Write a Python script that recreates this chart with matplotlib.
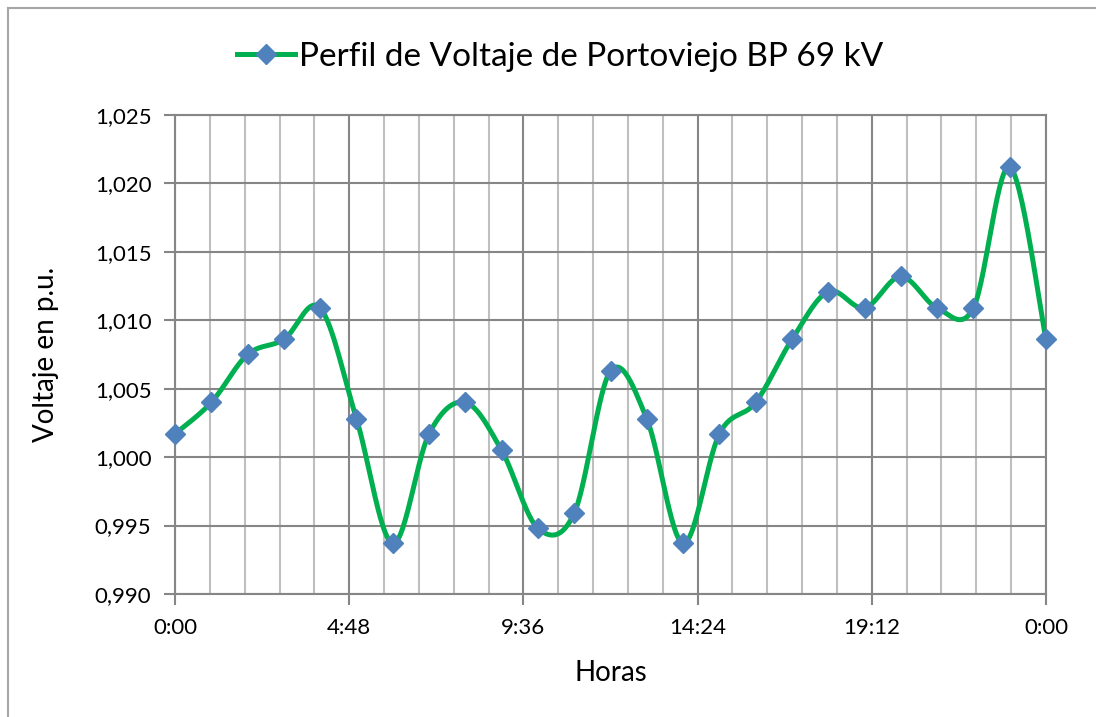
import matplotlib.pyplot as plt
import numpy as np
from matplotlib.lines import Line2D

plt.rcParams['font.family'] = ['Lato', 'DejaVu Sans']

# Data (hourly samples, hours 0..24)
horas = [0, 1, 2, 3, 4, 5, 6, 7, 8, 9, 10, 11, 12,
         13, 14, 15, 16, 17, 18, 19, 20, 21, 22, 23, 24]
voltaje = [1.0017, 1.0040, 1.0075, 1.0086, 1.0109, 1.0028, 0.9937, 1.0017,
           1.0040, 1.0005, 0.9948, 0.9959, 1.0063, 1.0028, 0.9937, 1.0017,
           1.0040, 1.0086, 1.0121, 1.0109, 1.0132, 1.0109, 1.0109, 1.0212,
           1.0086]

x_ticks = [0, 4.8, 9.6, 14.4, 19.2, 24]
x_labels = ['0:00', '4:48', '9:36', '14:24', '19:12', '0:00']
y_ticks = [0.990, 0.995, 1.000, 1.005, 1.010, 1.015, 1.020, 1.025]
y_labels = ['0,990', '0,995', '1,000', '1,005', '1,010', '1,015', '1,020', '1,025']

label = 'Perfil de Voltaje de Portoviejo BP 69 kV'
green = '#00B050'
blue = '#4F81BD'


# Excel-style smoothed line (Catmull-Rom Bezier between the points)
def smooth(x, y, n=30):
    x = np.asarray(x, float)
    y = np.asarray(y, float)
    px = np.concatenate([[x[0]], x, [x[-1]]])
    py = np.concatenate([[y[0]], y, [y[-1]]])
    xs, ys = [], []
    t = np.linspace(0, 1, n)
    for i in range(1, len(px) - 2):
        p0 = np.array([px[i], py[i]])
        p3 = np.array([px[i + 1], py[i + 1]])
        c1 = p0 + (np.array([px[i + 1], py[i + 1]]) - np.array([px[i - 1], py[i - 1]])) / 6
        c2 = p3 - (np.array([px[i + 2], py[i + 2]]) - np.array([px[i], py[i]])) / 6
        b = ((1 - t) ** 3)[:, None] * p0 + (3 * (1 - t) ** 2 * t)[:, None] * c1 \
            + (3 * (1 - t) * t ** 2)[:, None] * c2 + (t ** 3)[:, None] * p3
        xs.extend(b[:, 0])
        ys.extend(b[:, 1])
    return np.array(xs), np.array(ys)


fig = plt.figure(figsize=(10.96, 7.17), dpi=100)
ax = fig.add_axes([175 / 1096, 1 - 594 / 717, (1046 - 175) / 1096, (594 - 115) / 717])

sx, sy = smooth(horas, voltaje)
ax.plot(sx, sy, color=green, lw=3.6, solid_capstyle='round', zorder=3)
ax.plot(horas, voltaje, linestyle='none', marker='D', markersize=10,
        color=blue, zorder=4, clip_on=False)

ax.set_xlim(0, 24)
ax.set_ylim(0.990, 1.025)
ax.set_xticks(x_ticks)
ax.set_xticklabels(x_labels)
ax.set_xticks(np.arange(0, 24.01, 0.96), minor=True)
ax.set_yticks(y_ticks)
ax.set_yticklabels(y_labels)

ax.grid(True, which='minor', axis='x', color='#BFBFBF', lw=1.5)
ax.grid(True, which='major', axis='both', color='#868686', lw=1.5)
ax.set_axisbelow(True)
ax.tick_params(axis='both', which='major', length=8, width=1.5, color='#868686',
               labelsize=16)
ax.tick_params(axis='x', which='major', pad=9)
ax.tick_params(axis='y', which='major', pad=9)
ax.tick_params(axis='x', which='minor', length=0)
for s in ax.spines.values():
    s.set_color('#868686')
    s.set_linewidth(1.5)

ax.set_xlabel('Horas', fontsize=20, labelpad=16)
ax.set_ylabel('Voltaje en p.u.', fontsize=20, labelpad=26)

handle = Line2D([], [], color=green, lw=3.6, marker='D', markersize=10,
                markerfacecolor=blue, markeredgecolor=blue)
fig.legend([handle], [label], loc='center', bbox_to_anchor=(0.511, 1 - 57 / 717),
           frameon=False, fontsize=24, handlelength=1.75, handletextpad=0.1)

# chart area border (only left and top edges fall inside the image)
fig.add_artist(Line2D([8 / 1096, 8 / 1096], [0, 1 - 8 / 717],
                      transform=fig.transFigure, color='#A6A6A6', lw=1.5))
fig.add_artist(Line2D([8 / 1096, 1], [1 - 8 / 717, 1 - 8 / 717],
                      transform=fig.transFigure, color='#A6A6A6', lw=1.5))

fig.savefig('out.png', dpi=100)
